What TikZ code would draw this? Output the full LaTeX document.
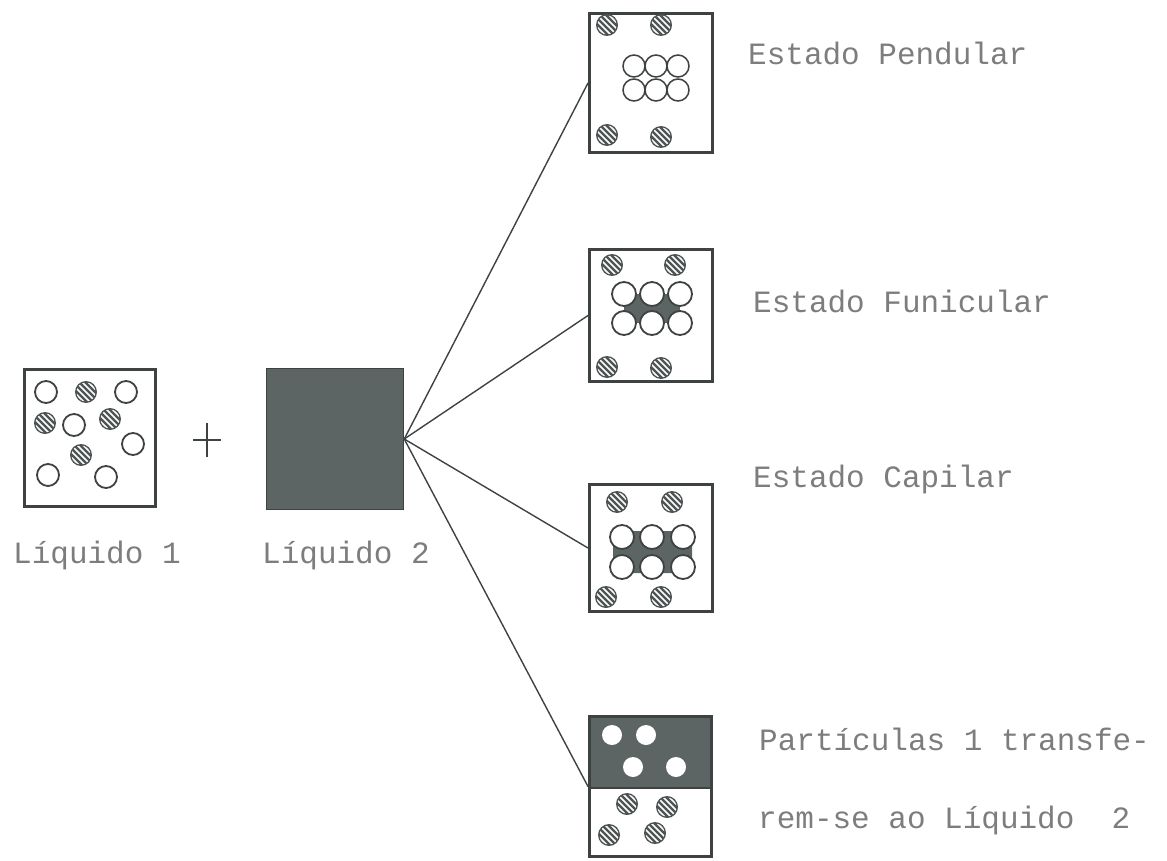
\documentclass[tikz,border=0pt]{standalone}
\usepackage{fontspec}
\setmonofont{Liberation Mono}
\usetikzlibrary{calc}
\definecolor{ink}{RGB}{62,66,66}
\definecolor{liq}{RGB}{92,100,100}
\definecolor{dotfill}{RGB}{78,84,84}
\definecolor{labelgray}{RGB}{125,125,125}
\tikzset{
  box/.style={draw=ink, line width=3pt, fill=white, inner sep=0pt},
  fan/.style={draw=ink, line width=1.4pt},
  lab/.style={font=\ttfamily\fontsize{31}{37}\selectfont, text=labelgray, inner sep=0pt, anchor=base west},
  opendot/.style={draw=ink, line width=1.8pt, fill=white},
  hatchdot/.pic={
    \fill[dotfill] (0,0) circle (11pt);
    \begin{scope}
      \clip (0,0) circle (9.5pt);
      \foreach \a/\b in {-21/-9,-18/-12,-15/-15,-12/-18,-9/-21}
        \draw[white, line width=1.7pt] (\a,\b) -- ++(30,30);
    \end{scope}
  }
}
\begin{document}
\begin{tikzpicture}[x=1pt,y=-1pt]
\useasboundingbox (0,0) rectangle (1167,861);

% liquid 1: mixed particles
\node[box, minimum width=131pt, minimum height=137pt] (l1) at (90,438) {};
\foreach \x/\y in {46/392,126/392,74/425,133/444,48/475,106/477}
  \draw[opendot] (\x,\y) circle (11pt);
\foreach \x/\y in {86/392,45/423,110/419,81/455}
  \pic at (\x,\y) {hatchdot};

% plus sign
\draw[ink, line width=1.6pt] (193,440) -- (221,440) (207,423) -- (207,457);

% liquid 2
\node[draw=ink, line width=1.5pt, fill=liq, inner sep=0pt,
      minimum width=137pt, minimum height=141pt] (l2) at (335,439) {};

% pendular state
\node[box, minimum width=123pt, minimum height=139pt] (pend) at (651,83) {};
\foreach \x/\y in {607/25,661/25,607/135,661/137}
  \pic at (\x,\y) {hatchdot};
\foreach \x in {634,656,678}
  \foreach \y in {66,90}
    \draw[draw=ink, line width=1.5pt, fill=white] (\x,\y) circle (11pt);

% funicular state
\node[box, minimum width=123pt, minimum height=132pt] (fun) at (651,315.5) {};
\foreach \x/\y in {612/265,675/265,607/367,661/368}
  \pic at (\x,\y) {hatchdot};
\fill[liq] (624,294) rectangle (680,323);
\foreach \x in {624,652,680}
  \foreach \y in {294,323}
    \draw[opendot] (\x,\y) circle (12pt);

% capillary state
\node[box, minimum width=123pt, minimum height=127pt] (cap) at (651,548) {};
\foreach \x/\y in {617/502,672/502,606/597,661/597}
  \pic at (\x,\y) {hatchdot};
\fill[liq, rounded corners=4pt] (613,531) rectangle (692,573);
\foreach \x in {622,652,683}
  \foreach \y in {537,567}
    \draw[opendot] (\x,\y) circle (12pt);

% particles transferred to liquid 2
\node[box, minimum width=122pt, minimum height=140pt,
      path picture={
        \fill[liq] (path picture bounding box.north west) rectangle
          ([yshift=-71.5pt]path picture bounding box.north east);
        \draw[ink, line width=1.5pt] ([yshift=-71.5pt]path picture bounding box.north west) --
          ([yshift=-71.5pt]path picture bounding box.north east);
      }] (tr) at (650.5,786.5) {};
\foreach \x/\y in {612/735,646/735,633/767,676/767}
  \fill[white] (\x,\y) circle (10pt);
\foreach \x/\y in {627/804,667/807,609/835,655/833}
  \pic at (\x,\y) {hatchdot};

% connectors
\draw[fan] (l2.east) -- (pend.west);
\draw[fan] (l2.east) -- (fun.west);
\draw[fan] (l2.east) -- (cap.west);
\draw[fan] (l2.east) -- (tr.west);

% labels
\node[lab] (t1) at (13,563) {Líquido 1};
\node[lab] (t2) at (262,563) {Líquido 2};
\node[lab] (tp) at (748,65) {Estado Pendular};
\node[lab] (tf) at (753,312) {Estado Funicular};
\node[lab] (tc) at (753,487) {Estado Capilar};
\node[lab] (tt1) at (759,750) {Partículas 1 transfe-};
\node[lab] (tt2) at (758,828) {rem-se ao Líquido~~2};
\end{tikzpicture}
\end{document}
